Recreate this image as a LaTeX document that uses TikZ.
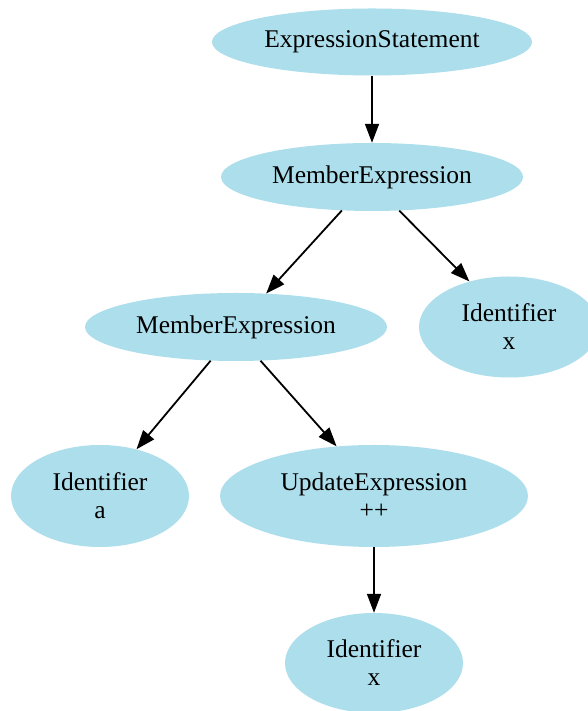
\documentclass[tikz,border=0pt]{standalone}
\usepackage{fontspec}
\setmainfont{Liberation Serif}
\usetikzlibrary{shapes.geometric,arrows.meta}
\definecolor{nodefill}{RGB}{173,222,236}
\tikzset{
  astnode/.style={ellipse,fill=nodefill,draw=none,inner sep=0pt,align=center,
    font=\fontsize{25.5}{28}\selectfont},
  edgearrow/.style={-{Triangle[length=19pt,width=14pt]},line width=1.8pt,black}
}
\begin{document}
\begin{tikzpicture}[x=1pt,y=1pt]
\useasboundingbox (0,0) rectangle (588,711);
\node[astnode,minimum width=320pt,minimum height=67pt] (es) at (372,669) {ExpressionStatement};
\node[astnode,minimum width=302pt,minimum height=68pt] (me1) at (372,534) {MemberExpression};
\node[astnode,minimum width=302pt,minimum height=68pt] (me2) at (236,384) {MemberExpression};
\node[astnode,minimum width=180pt,minimum height=101pt] (idx1) at (509,384) {Identifier\\x};
\node[astnode,minimum width=178pt,minimum height=102pt] (ida) at (100,215) {Identifier\\a};
\node[astnode,minimum width=308pt,minimum height=102pt] (upd) at (374,215) {UpdateExpression\\++};
\node[astnode,minimum width=178pt,minimum height=100pt] (idx2) at (374,48) {Identifier\\x};
\draw[edgearrow] (es.south) -- (me1.north);
\draw[edgearrow] (me1.228.6) -- (me2.48.7);
\draw[edgearrow] (me1.309.5) -- (idx1.131);
\draw[edgearrow] (me2.233.4) -- (ida.52.5);
\draw[edgearrow] (me2.306.6) -- (upd.127.8);
\draw[edgearrow] (upd.south) -- (idx2.north);
\end{tikzpicture}
\end{document}
